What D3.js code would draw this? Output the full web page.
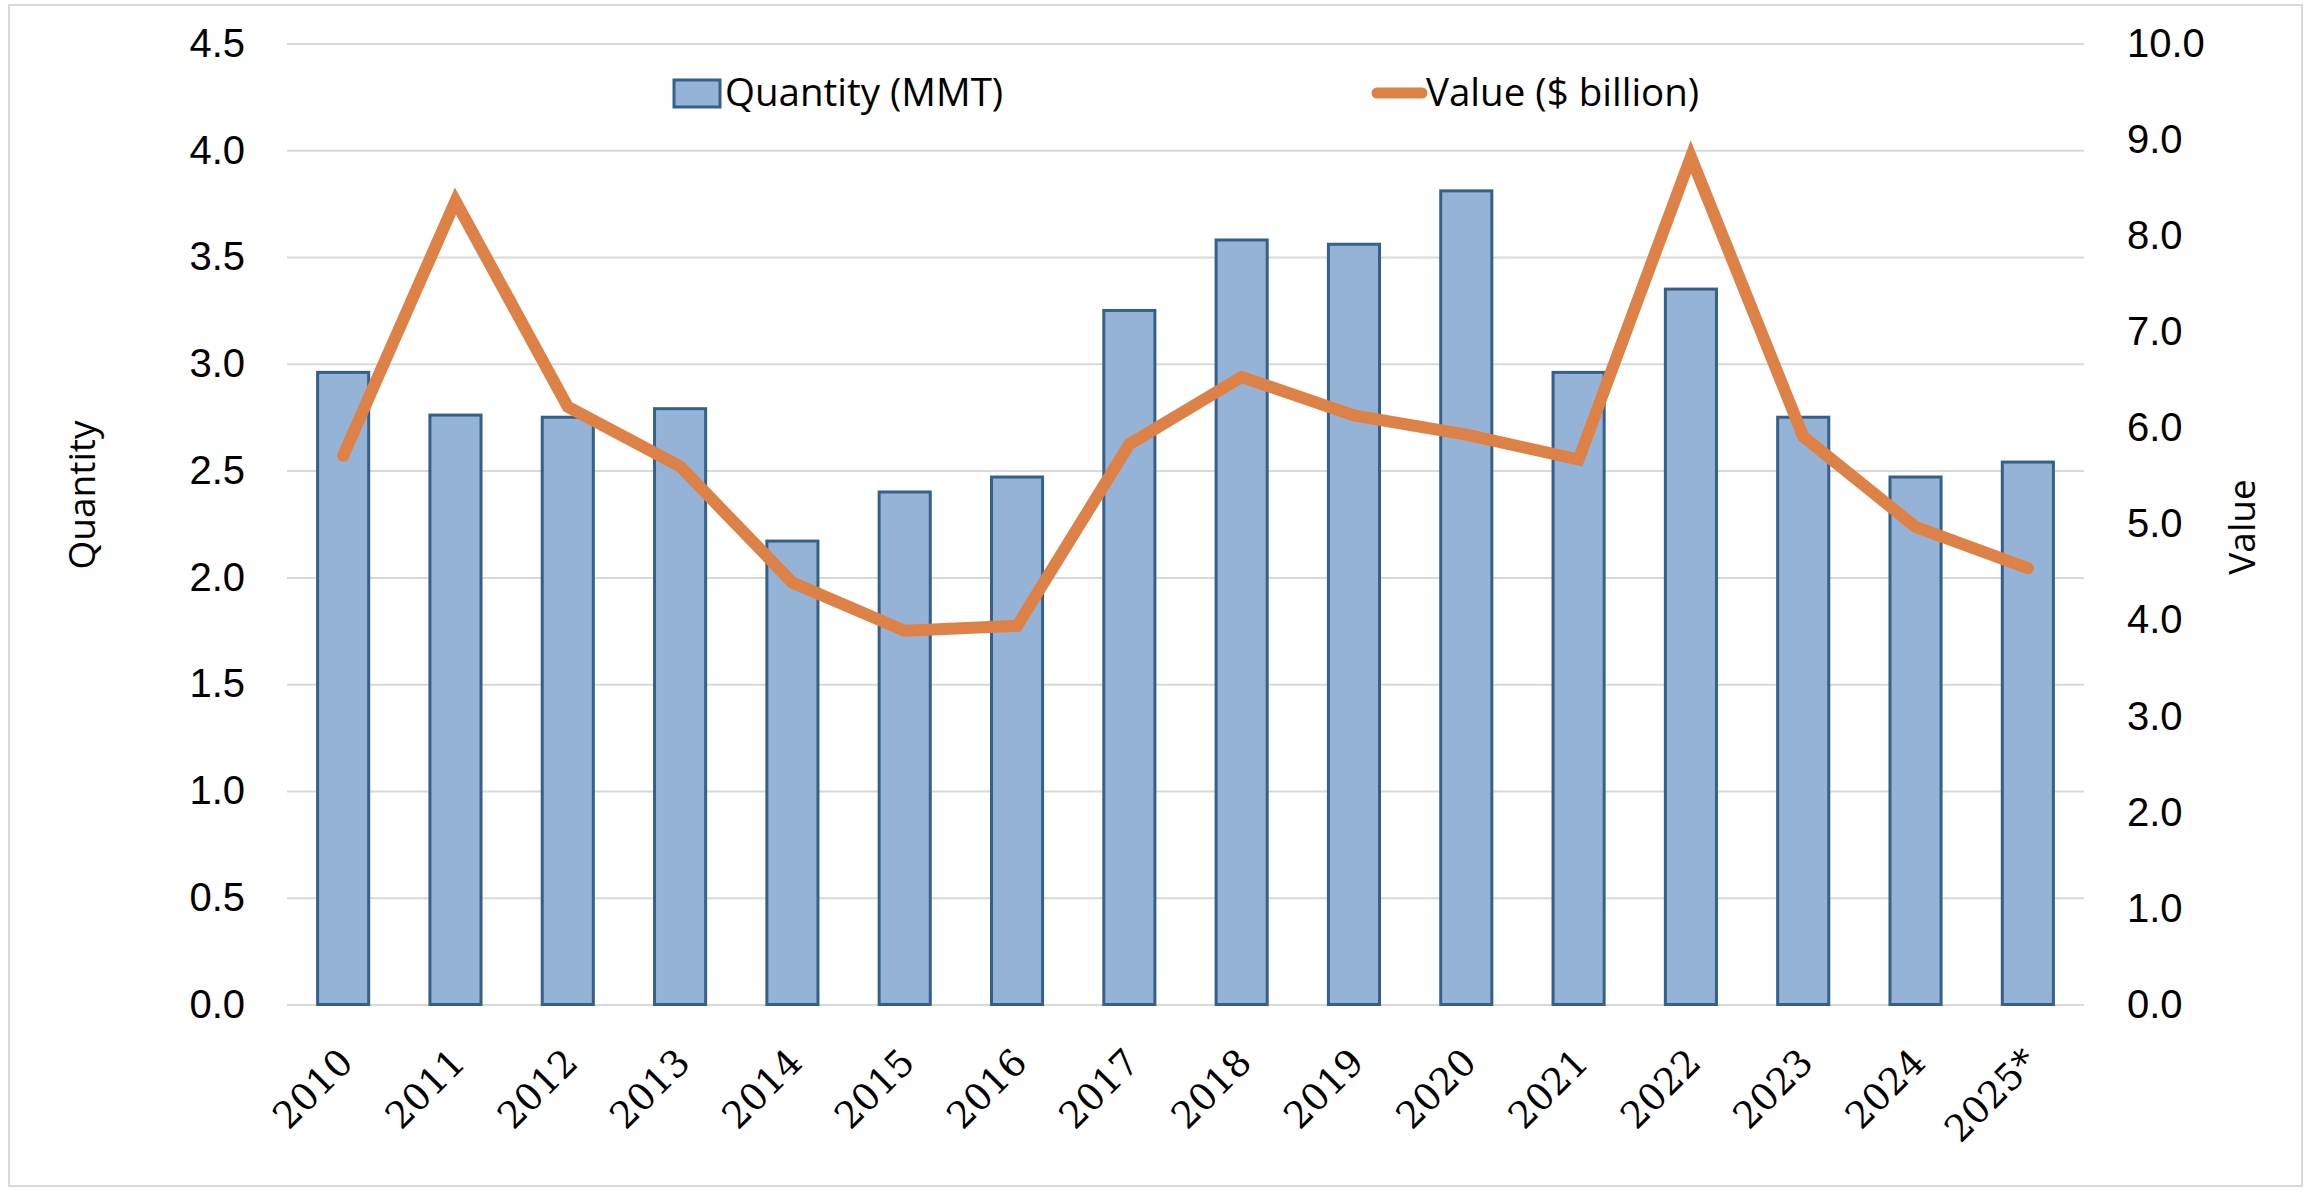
<!DOCTYPE html>
<html>
<head>
<meta charset="utf-8">
<script src="https://cdn.jsdelivr.net/npm/d3@7"></script>
<style>
    html, body { margin: 0; padding: 0; background: #fff; }
    svg { display: block; }
    .tick-label { font-family: "Liberation Sans", Arial, sans-serif; font-size: 40px; fill: #000; }
    .x-label { font-family: "DejaVu Serif", serif; font-size: 37px; fill: #000; }
    .title { font-family: "Open Sans", sans-serif; font-size: 37px; fill: #000; }
    .legend { font-family: "Open Sans", sans-serif; font-size: 38.5px; fill: #000; }
</style>
</head>
<body>
<div class="graph-bg"></div>
<script>
var years = ['2010', '2011', '2012', '2013', '2014', '2015', '2016', '2017',
             '2018', '2019', '2020', '2021', '2022', '2023', '2024', '2025*'];
var quantity = [2.96, 2.76, 2.75, 2.79, 2.17, 2.40, 2.47, 3.25,
                3.58, 3.56, 3.81, 2.96, 3.35, 2.75, 2.47, 2.54];
var value = [5.71, 8.36, 6.22, 5.60, 4.39, 3.89, 3.94, 5.83,
             6.53, 6.13, 5.93, 5.67, 8.82, 5.91, 4.97, 4.54];
var leftTicks = [0, 0.5, 1, 1.5, 2, 2.5, 3, 3.5, 4, 4.5];
var rightTicks = [0, 1, 2, 3, 4, 5, 6, 7, 8, 9, 10];
var seriesNames = ['Quantity (MMT)', 'Value ($ billion)'];

var W = 2313, H = 1191;
var plotLeft = 287, plotRight = 2084, plotTop = 43.5, plotBottom = 1004.5;
var barFill = '#95b3d7', barStroke = '#34608a', lineColor = '#de8146', gridColor = '#d9d9d9';

var svg = d3.select('.graph-bg').append('svg').attr('width', W).attr('height', H);
svg.append('rect').attr('width', W).attr('height', H).attr('fill', '#fff');
// outer frame
svg.append('rect').attr('x', 9).attr('y', 5).attr('width', 2293).attr('height', 1181)
    .attr('fill', 'none').attr('stroke', gridColor).attr('stroke-width', 2);

var x = d3.scaleBand().domain(years).range([plotLeft, plotRight]).paddingInner(0.545).paddingOuter(0.2725);
var yL = d3.scaleLinear().domain([0, 4.5]).range([plotBottom, plotTop]);
var yR = d3.scaleLinear().domain([0, 10]).range([plotBottom, plotTop]);

// gridlines
var grid = svg.append('g').attr('transform', 'translate(' + plotLeft + ',0)')
    .call(d3.axisLeft(yL).tickValues(leftTicks).tickSize(-(plotRight - plotLeft)).tickFormat(''));
grid.select('.domain').remove();
grid.selectAll('line').attr('stroke', gridColor).attr('stroke-width', 2);

// left axis labels
var axL = svg.append('g').attr('transform', 'translate(' + plotLeft + ',0)')
    .call(d3.axisLeft(yL).tickValues(leftTicks).tickSize(0).tickPadding(42).tickFormat(d3.format('.1f')));
axL.select('.domain').remove();
axL.attr('font-family', null).attr('font-size', null);
axL.selectAll('text').attr('class', 'tick-label');

// right axis labels
var axR = svg.append('g').attr('transform', 'translate(' + plotRight + ',0)')
    .call(d3.axisRight(yR).tickValues(rightTicks).tickSize(0).tickPadding(43).tickFormat(d3.format('.1f')));
axR.select('.domain').remove();
axR.attr('font-family', null).attr('font-size', null);
axR.selectAll('text').attr('class', 'tick-label');

// bars
svg.append('g').selectAll('rect').data(quantity).join('rect')
    .attr('x', function (d, i) { return x(years[i]); })
    .attr('y', function (d) { return yL(d); })
    .attr('width', x.bandwidth())
    .attr('height', function (d) { return yL(0) - yL(d); })
    .attr('fill', barFill).attr('stroke', barStroke).attr('stroke-width', 3);

// x axis labels
var axX = svg.append('g').attr('transform', 'translate(0,' + plotBottom + ')')
    .call(d3.axisBottom(x).tickSize(0).tickFormat(function (d) { return d; }));
axX.select('.domain').remove();
axX.attr('font-family', null).attr('font-size', null);
axX.selectAll('text').attr('class', 'x-label')
    .attr('text-anchor', 'end').attr('dy', 0).attr('y', 0)
    .attr('transform', 'translate(12,60) rotate(-45)');

// value line
var line = d3.line()
    .x(function (d, i) { return x(years[i]) + x.bandwidth() / 2; })
    .y(function (d) { return yR(d); });
svg.append('path').datum(value).attr('d', line)
    .attr('fill', 'none').attr('stroke', lineColor).attr('stroke-width', 12)
    .attr('stroke-linecap', 'round').attr('stroke-linejoin', 'miter').attr('stroke-miterlimit', 4);

// axis titles
svg.append('text').attr('class', 'title').attr('text-anchor', 'middle')
    .attr('transform', 'translate(82,495) rotate(-90)').attr('dy', '0.35em').text('Quantity');
svg.append('text').attr('class', 'title').attr('text-anchor', 'middle')
    .attr('transform', 'translate(2242,527) rotate(-90)').attr('dy', '0.35em').text('Value');

// legend
var lg = svg.append('g');
lg.append('rect').attr('x', 674).attr('y', 80).attr('width', 46).attr('height', 27)
    .attr('fill', barFill).attr('stroke', barStroke).attr('stroke-width', 3);
lg.append('text').attr('class', 'legend').attr('x', 725).attr('y', 93).attr('dy', '0.35em').text(seriesNames[0]);
lg.append('line').attr('x1', 1377).attr('x2', 1422).attr('y1', 93).attr('y2', 93)
    .attr('stroke', lineColor).attr('stroke-width', 11).attr('stroke-linecap', 'round');
lg.append('text').attr('class', 'legend').attr('x', 1426).attr('y', 93).attr('dy', '0.35em').text(seriesNames[1]);
</script>
</body>
</html>
